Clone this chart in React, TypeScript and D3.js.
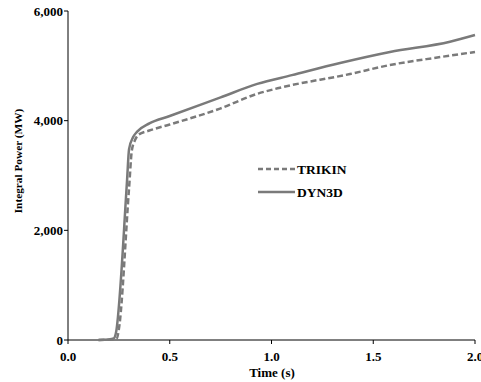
import React from "react";
import * as d3 from "d3";

const dyn3dTime = [0.15, 0.2, 0.225, 0.235, 0.29, 0.3, 0.32, 0.34, 0.4, 0.5, 0.75, 0.93, 1.1, 1.337, 1.582, 1.877, 2.0];
const dyn3dPower = [0, 10, 30, 120, 2900, 3480, 3700, 3800, 3950, 4085, 4425, 4670, 4830, 5052, 5253, 5440, 5562];

const trikinTime = [0.15, 0.22, 0.24, 0.25, 0.3, 0.314, 0.33, 0.345, 0.4, 0.5, 0.747, 0.93, 1.03, 1.386, 1.582, 1.83, 2.0];
const trikinPower = [0, 10, 30, 200, 2770, 3465, 3650, 3740, 3820, 3930, 4220, 4490, 4590, 4851, 5015, 5160, 5253];

const xTicks = [0, 0.5, 1.0, 1.5, 2.0];
const yTicks = [0, 2000, 4000, 6000];

const seriesNames = ["TRIKIN", "DYN3D"];

const W = 481;
const H = 382;
const FONT = "'Liberation Serif', 'Times New Roman', serif";
const GRAY = "#7a7a7a";

export default function App() {
  const x = d3.scaleLinear().domain([0, 2]).range([68, 475]);
  const y = d3.scaleLinear().domain([0, 6000]).range([340, 11]);
  const line = d3
    .line<[number, number]>()
    .x((d) => x(d[0]))
    .y((d) => y(d[1]))
    .curve(d3.curveMonotoneX);

  const dyn = dyn3dTime.map((t, i) => [t, dyn3dPower[i]] as [number, number]);
  const tri = trikinTime.map((t, i) => [t, trikinPower[i]] as [number, number]);
  const fmt = d3.format(",");

  return (
    <svg
      width={W}
      height={H}
      style={{ position: "absolute", left: 0, top: 0, background: "#fff" }}
      fontFamily={FONT}
      fontWeight="bold"
    >
      <rect x={0} y={0} width={W} height={H} fill="#fff" />
      {/* y axis */}
      <line x1={x(0)} x2={x(0)} y1={y(0)} y2={y(6000)} stroke="#000" strokeWidth={1} />
      {yTicks.map((v) => (
        <g key={v}>
          <line x1={x(0) - 4} x2={x(0)} y1={y(v)} y2={y(v)} stroke="#000" />
          <text x={x(0) - 5} y={y(v)} dy="0.35em" textAnchor="end" fontSize={13} fill="#000">
            {fmt(v)}
          </text>
        </g>
      ))}
      {/* x axis */}
      <line x1={x(0)} x2={x(2)} y1={y(0)} y2={y(0)} stroke="#000" strokeWidth={1} />
      {xTicks.map((v) => (
        <g key={v}>
          <line x1={x(v)} x2={x(v)} y1={y(0)} y2={y(0) + 4} stroke="#000" />
          <text x={x(v)} y={361} textAnchor="middle" fontSize={13} fill="#000">
            {v.toFixed(1)}
          </text>
        </g>
      ))}
      <text x={272} y={377} textAnchor="middle" fontSize={13} fill="#000">
        Time (s)
      </text>
      <text
        transform={`translate(22,161) rotate(-90)`}
        textAnchor="middle"
        fontSize={11.3}
        fill="#000"
      >
        Integral Power (MW)
      </text>
      {/* series */}
      <path d={line(tri) || ""} fill="none" stroke={GRAY} strokeWidth={2.5} strokeDasharray="6,3" />
      <path d={line(dyn) || ""} fill="none" stroke={GRAY} strokeWidth={2.5} />
      {/* legend */}
      <line x1={258} x2={295} y1={169} y2={169} stroke={GRAY} strokeWidth={2.5} strokeDasharray="5,3" />
      <text x={297} y={169} dy="0.35em" fontSize={13.5} fill="#000">
        {seriesNames[0]}
      </text>
      <line x1={258} x2={295} y1={192} y2={192} stroke={GRAY} strokeWidth={2.5} />
      <text x={297} y={192} dy="0.35em" fontSize={13.5} fill="#000">
        {seriesNames[1]}
      </text>
    </svg>
  );
}
